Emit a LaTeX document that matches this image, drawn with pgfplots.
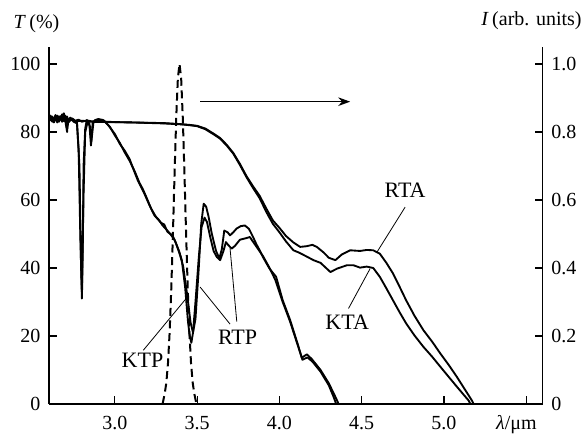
\documentclass[border=0pt]{standalone}
\usepackage{fontspec}
\setmainfont{Liberation Serif}
\usepackage{pgfplots}
\pgfplotsset{compat=1.18}
\usetikzlibrary{arrows.meta}

\pgfplotsset{
  base/.style={
    scale only axis, width=370.3pt, height=267.8pt,
    at={(0,0)}, anchor=south west,
    xmin=2.6, xmax=5.6,
    axis line style={-, line width=1.1pt},
    tick align=inside, major tick length=6pt,
    tick style={line width=0.9pt, black},
    tick label style={font=\fontsize{15}{18}\selectfont},
    clip=false,
  },
  curve/.style={black, line width=1.4pt, line join=round, no marks},
}

\begin{document}
\begin{tikzpicture}[font=\fontsize{15}{18}\selectfont]
\begin{axis}[base,
  ymin=0, ymax=105,
  axis x line*=bottom, axis y line*=left,
  xtick={3,3.5,4,4.5,5,5.5}, xticklabels={3.0,3.5,4.0,4.5,5.0,{}},
  xticklabel style={anchor=base, yshift=-19pt},
  ytick={0,20,40,60,80,100}, yticklabels={0,20,40,60,80,100},
  yticklabel style={anchor=east, xshift=-3pt},
]
% KTA
\addplot[curve] coordinates {
(2.60,83.5)(2.62,84.5)(2.63,82.8)(2.65,84.8)(2.66,83.0)(2.68,85.2)(2.69,83.2)(2.71,84.5)(2.72,82.9)(2.74,84.0)(2.76,83.3)(2.78,83.6)(2.80,83.0)(2.83,83.4)(2.86,83.1)(2.90,83.3)(2.95,83.0)(3.0,82.9)(3.1,82.8)(3.2,82.7)(3.3,82.6)(3.4,82.3)(3.45,82.0)(3.50,81.7)(3.55,80.8)(3.60,79.3)(3.64,78.0)(3.68,76.0)(3.72,73.6)(3.76,70.3)(3.80,66.7)(3.84,63.5)(3.88,60.5)(3.92,56.5)(3.96,53)(4.00,50.5)(4.04,47.8)(4.085,45.2)(4.12,44.5)(4.16,43.5)(4.207,42.3)(4.25,41.5)(4.31,38.8)(4.35,39.8)(4.41,40.8)(4.45,40.8)(4.49,40.1)(4.53,40.4)(4.57,40.0)(4.61,37.4)(4.65,34)(4.69,30.5)(4.73,27)(4.77,23.7)(4.82,20.2)(4.875,16.8)(4.93,13.8)(4.977,11)(5.03,7.9)(5.078,5.1)(5.12,2.7)(5.15,1.0)(5.16,0)};
% RTA
\addplot[curve] coordinates {
(2.60,83.8)(2.62,83.2)(2.64,84.6)(2.66,83.4)(2.68,84.2)(2.70,83.0)(2.73,83.8)(2.76,83.1)(2.80,83.3)(2.86,83.0)(2.95,82.9)(3.1,82.8)(3.3,82.5)(3.45,82.1)(3.50,81.8)(3.55,81.0)(3.60,79.5)(3.64,78.2)(3.68,76.2)(3.72,73.8)(3.76,70.6)(3.80,67.0)(3.84,64.0)(3.88,61.2)(3.92,57.5)(3.96,54.0)(4.00,51.8)(4.04,49.4)(4.085,47.5)(4.126,46.2)(4.166,46.4)(4.20,46.8)(4.227,46.2)(4.27,44.5)(4.30,43.0)(4.34,42.3)(4.38,44.0)(4.43,45.2)(4.49,45.0)(4.53,45.3)(4.57,45.2)(4.61,44.2)(4.65,41.5)(4.69,38.4)(4.73,34.5)(4.77,30.5)(4.82,26)(4.875,21.7)(4.93,18.2)(4.977,14.9)(5.03,11.4)(5.078,8.0)(5.12,4.8)(5.17,1.0)(5.18,0)};
% KTP
\addplot[curve] coordinates {
(2.60,83.8)(2.61,84.8)(2.62,83.0)(2.64,85.0)(2.65,82.8)(2.67,84.6)(2.68,83.4)(2.69,85.5)(2.70,83.0)(2.71,80.0)(2.715,83.5)(2.73,84.2)(2.75,83.0)(2.77,82.5)(2.78,75)(2.79,50)(2.80,31)(2.805,45)(2.81,70)(2.82,81)(2.83,83.5)(2.845,82.5)(2.855,76)(2.865,82.5)(2.88,83.5)(2.90,83.8)(2.93,83.5)(2.96,82.0)(3.00,79.4)(3.03,76.5)(3.06,74.5)(3.09,72.0)(3.11,69.4)(3.14,65.7)(3.16,63.8)(3.18,61.8)(3.21,58.5)(3.24,55.5)(3.27,54.0)(3.29,52.5)(3.31,51.5)(3.335,50.1)(3.36,48.5)(3.376,46.7)(3.39,45.0)(3.407,42.3)(3.427,34.4)(3.445,24)(3.455,20)(3.465,18)(3.475,21)(3.49,30)(3.51,43)(3.527,52)(3.545,54.8)(3.56,53.5)(3.58,49)(3.60,45)(3.62,43.2)(3.64,42.3)(3.66,45.0)(3.675,47.6)(3.69,46.7)(3.71,45.7)(3.73,46.5)(3.76,48.3)(3.80,48.8)(3.82,49.1)(3.85,47.0)(3.90,43.5)(3.94,40.0)(3.975,36.5)(4.02,30.0)(4.065,24.2)(4.11,17.5)(4.14,13.0)(4.17,13.7)(4.20,12.5)(4.25,9.5)(4.30,5.5)(4.33,2.0)(4.345,0)};
% RTP
\addplot[curve] coordinates {
(2.60,83.2)(2.62,84.2)(2.64,83.5)(2.66,84.6)(2.68,83.0)(2.70,84.8)(2.71,81.0)(2.72,83.6)(2.75,83.4)(2.77,82.8)(2.785,70)(2.795,40)(2.80,33)(2.81,62)(2.82,80)(2.835,83.0)(2.85,81.5)(2.857,77)(2.87,82.8)(2.90,83.5)(2.94,83.0)(2.97,81.5)(3.00,79.0)(3.03,76.8)(3.06,74.0)(3.09,71.5)(3.12,68.5)(3.15,65.0)(3.17,63.2)(3.19,61.0)(3.22,57.5)(3.25,55.0)(3.28,53.3)(3.30,52.8)(3.32,50.6)(3.35,49.6)(3.37,47.5)(3.395,44.0)(3.415,40.5)(3.44,32)(3.46,24)(3.475,21)(3.49,25)(3.51,40)(3.525,53)(3.54,58.9)(3.555,58)(3.57,55)(3.589,50.1)(3.615,45)(3.635,42.8)(3.65,45.5)(3.665,51.0)(3.685,50.5)(3.70,49.6)(3.72,50.5)(3.74,51.6)(3.765,52.3)(3.79,52.5)(3.815,51.5)(3.84,49.1)(3.86,47.0)(3.88,45.2)(3.90,43.2)(3.94,39.8)(3.98,37.4)(4.02,30.5)(4.065,24.7)(4.11,17.8)(4.136,13.6)(4.167,14.6)(4.197,13.2)(4.25,10)(4.30,6.1)(4.34,2.1)(4.36,0)};

\draw[-{Stealth[length=9pt,width=6.5pt]}, line width=1pt] (axis cs:3.518,88.9) -- (axis cs:4.43,88.9);

\begin{scope}[every node/.style={font=\fontsize{16.5}{19}\selectfont}]
\node at (axis cs:4.764,62.8) {RTA};
\draw[line width=0.6pt] (axis cs:4.764,57.9) -- (axis cs:4.592,44.6);
\node at (axis cs:4.412,23.9) {KTA};
\draw[line width=0.6pt] (axis cs:4.42,28.1) -- (axis cs:4.551,39.8);
\node at (axis cs:3.168,12.8) {KTP};
\draw[line width=0.6pt] (axis cs:3.173,15.8) -- (axis cs:3.445,31.7);
\node at (axis cs:3.746,19.5) {RTP};
\draw[line width=0.6pt] (axis cs:3.700,23.5) -- (axis cs:3.518,34.4);
\draw[line width=0.6pt] (axis cs:3.741,24.2) -- (axis cs:3.700,45.8);
\end{scope}

\node[anchor=base west, xshift=-30pt, yshift=14pt] at (rel axis cs:0,1) {\textit{T}\,(\%)};
\node[anchor=base east, yshift=-19pt, xshift=-1pt] at (rel axis cs:1,0) {\textit{λ}/μm};
\end{axis}

\begin{axis}[base,
  ymin=0, ymax=1.05,
  axis x line=none, axis y line*=right,
  ytick={0,0.2,0.4,0.6,0.8,1.0}, yticklabels={0,0.2,0.4,0.6,0.8,1.0},
  yticklabel style={anchor=west, xshift=3pt},
]
\addplot[black, line width=1.5pt, dash pattern=on 6pt off 3.5pt, no marks] coordinates {
(3.29,0)(3.303,0.03)(3.313,0.063)(3.323,0.12)(3.333,0.211)(3.343,0.339)(3.353,0.501)(3.363,0.678)(3.373,0.841)(3.383,0.958)(3.393,1.0)(3.403,0.958)(3.413,0.841)(3.423,0.678)(3.433,0.501)(3.443,0.339)(3.453,0.211)(3.463,0.12)(3.473,0.063)(3.483,0.03)(3.496,0)};
\node[anchor=base west, xshift=-49.5pt, yshift=16pt] at (rel axis cs:1,1) {\textit{I}\,(arb. units)};
\end{axis}

\path (-36.75pt,-24.75pt) rectangle (404.25pt,303pt);
\end{tikzpicture}
\end{document}
